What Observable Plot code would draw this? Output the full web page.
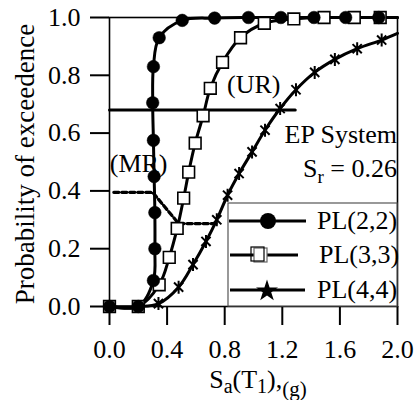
<!DOCTYPE html>
<html><head><meta charset="utf-8">
<script src="https://cdn.jsdelivr.net/npm/d3@7"></script>
<script src="https://cdn.jsdelivr.net/npm/@observablehq/plot@0.6"></script>
<style>
body{margin:0;background:#fff;}
#chart{width:414px;height:400px;}
#chart svg, #chart svg text, #chart svg tspan { font-family: "Liberation Serif", "Times New Roman", "DejaVu Serif", serif !important; }
</style>
</head><body><div id="chart"></div>
<script>
// ---- data ----
const xTicks = [0, 0.4, 0.8, 1.2, 1.6, 2.0];
const yTicks = [0, 0.2, 0.4, 0.6, 0.8, 1.0];
const seriesNames = ["PL(2,2)", "PL(3,3)", "PL(4,4)"];

const pl22X = [0, 0.2, 0.305, 0.315, 0.315, 0.31, 0.305, 0.30, 0.305, 0.345, 0.505, 0.73, 0.965, 1.19, 1.42, 1.64, 1.87];
const pl22Y = [0, 0, 0.09, 0.20, 0.325, 0.45, 0.575, 0.705, 0.83, 0.93, 0.99, 0.998, 1, 1, 1, 1, 1];
const pl22EndX = 2.0, pl22EndY = 1.0;

const pl33X = [0, 0.2, 0.345, 0.415, 0.47, 0.515, 0.55, 0.595, 0.65, 0.70, 0.785, 0.91, 1.075, 1.28, 1.49, 1.70, 1.88];
const pl33Y = [0, 0, 0.075, 0.17, 0.27, 0.375, 0.465, 0.565, 0.66, 0.755, 0.845, 0.93, 0.98, 0.995, 1, 1, 1];
const pl33EndX = 2.0, pl33EndY = 1.0;

const pl44X = [0, 0.2, 0.34, 0.48, 0.58, 0.67, 0.745, 0.82, 0.90, 0.99, 1.08, 1.185, 1.295, 1.425, 1.565, 1.72, 1.89];
const pl44Y = [0, 0, 0.01, 0.067, 0.145, 0.225, 0.30, 0.385, 0.46, 0.535, 0.61, 0.685, 0.75, 0.81, 0.855, 0.892, 0.922];
const pl44EndX = 2.0, pl44EndY = 0.945;

// (UR) solid limit line and (MR) dotted path
const urX = [0, 1.29], urY = [0.68, 0.68];
const mrX = [0.03, 0.30, 0.48, 0.74], mrY = [0.395, 0.395, 0.287, 0.287];

const annoText = ["(UR)", "(MR)", "EP System"];
const srLabel = ["S", "r", " = 0.26"];

// ---- build tables ----
const toRows = (xs, ys) => xs.map((x, i) => ({x, y: ys[i]}));
const pl22 = toRows(pl22X, pl22Y), pl33 = toRows(pl33X, pl33Y), pl44 = toRows(pl44X, pl44Y);
const pl22Line = [...pl22, {x: pl22EndX, y: pl22EndY}];
const pl33Line = [...pl33, {x: pl33EndX, y: pl33EndY}];
const pl44Line = [...pl44, {x: pl44EndX, y: pl44EndY}];
const ur = toRows(urX, urY), mr = toRows(mrX, mrY);

const font = "Liberation Serif, Times New Roman, DejaVu Serif, serif";
const fmt = d => d.toFixed(1);

// Excel-like star marker: vertical + two 45° diagonals
const xStar = {draw(ctx, size){
  const r = Math.sqrt(size / Math.PI);
  const d = r * Math.SQRT1_2;
  ctx.moveTo(0, -r); ctx.lineTo(0, r);
  ctx.moveTo(-d, -d); ctx.lineTo(d, d);
  ctx.moveTo(-d, d); ctx.lineTo(d, -d);
}};

const plot = Plot.plot({
  width: 414, height: 400,
  marginLeft: 109, marginRight: 17, marginTop: 17, marginBottom: 94,
  style: {fontFamily: font, fontSize: "26px", color: "black", background: "white", overflow: "visible"},
  x: {domain: [0, 2]},
  y: {domain: [0, 1]},
  marks: [
    Plot.axisX({ticks: xTicks, tickFormat: fmt, tickSize: 19, tickPadding: 14, strokeWidth: 2, label: null, fontSize: 26}),
    Plot.axisY({ticks: yTicks, tickFormat: fmt, tickSize: 19, tickPadding: 10, strokeWidth: 2, label: null, fontSize: 26}),
    Plot.frame({stroke: "black", strokeWidth: 1.6}),
    Plot.line(ur, {x: "x", y: "y", stroke: "black", strokeWidth: 3}),
    Plot.line(mr, {x: "x", y: "y", stroke: "black", strokeWidth: 3.2, strokeDasharray: "5,3"}),
    Plot.line(pl22Line, {x: "x", y: "y", curve: "catmull-rom", stroke: "black", strokeWidth: 3}),
    Plot.line(pl33Line, {x: "x", y: "y", curve: "catmull-rom", stroke: "black", strokeWidth: 3}),
    Plot.line(pl44Line, {x: "x", y: "y", curve: "catmull-rom", stroke: "black", strokeWidth: 3}),
    Plot.dot(pl44, {x: "x", y: "y", symbol: xStar, r: 6.5, fill: "none", stroke: "black", strokeWidth: 2}),
    Plot.dot(pl33, {x: "x", y: "y", symbol: "square", r: 6.6, fill: "white", stroke: "black", strokeWidth: 1.6}),
    Plot.dot(pl22, {x: "x", y: "y", r: 6.3, fill: "black", stroke: "black", strokeWidth: 0.5})
  ]
});
document.getElementById("chart").appendChild(plot);

// ---- annotations & legend ----
const sx = plot.scale("x"), sy = plot.scale("y");
const svg = d3.select(plot);
const g = svg.append("g").attr("font-family", font).attr("fill", "black").attr("font-size", 26)
  .attr("text-anchor", "start");

g.append("text").attr("x", sx.apply(0.82)).attr("y", sy.apply(0.737)).text(annoText[0]);
g.append("text").attr("x", sx.apply(0.005)).attr("y", sy.apply(0.464)).text(annoText[1]);
g.append("text").attr("x", sx.apply(2.0)).attr("y", sy.apply(0.564)).attr("text-anchor", "end").text(annoText[2]);
const sr = g.append("text").attr("x", sx.apply(2.0)).attr("y", sy.apply(0.446)).attr("text-anchor", "end");
sr.append("tspan").text(srLabel[0]);
sr.append("tspan").attr("font-size", 19).attr("dy", 6).text(srLabel[1]);
sr.append("tspan").attr("dy", -6).text(srLabel[2]);

// x-axis title
const xt = g.append("text").attr("x", 258).attr("y", 388).attr("text-anchor", "middle");
xt.append("tspan").text("S");
xt.append("tspan").attr("font-size", 20).attr("dy", 5).text("a");
xt.append("tspan").attr("dy", -5).text("(T");
xt.append("tspan").attr("font-size", 20).attr("dy", 5).text("1");
xt.append("tspan").attr("dy", -5).text("),");
xt.append("tspan").attr("font-size", 21).attr("dy", 8).text("(g)");

// y-axis title
g.append("text").attr("transform", "translate(34,164) rotate(-90)").attr("text-anchor", "middle")
  .attr("font-size", 27).text("Probability of exceedence");

// legend
const lg = svg.append("g").attr("font-family", font).attr("font-size", 26).attr("text-anchor", "start");
lg.append("rect").attr("x", 228).attr("y", 203).attr("width", 169).attr("height", 103)
  .attr("fill", "white").attr("stroke", "#555").attr("stroke-width", 1.2);
const rows = [221, 255, 290];
const lineEnds = [[229, 306], [230, 298], [230, 305]];
rows.forEach((y, i) => {
  lg.append("line").attr("x1", lineEnds[i][0]).attr("x2", lineEnds[i][1]).attr("y1", y).attr("y2", y)
    .attr("stroke", "black").attr("stroke-width", 3);
});
lg.append("circle").attr("cx", 268).attr("cy", rows[0]).attr("r", 8).attr("fill", "black");
lg.append("rect").attr("x", 254).attr("y", rows[1] - 7).attr("width", 13).attr("height", 14)
  .attr("fill", "white").attr("stroke", "#666").attr("stroke-width", 1.2);
lg.append("rect").attr("x", 251).attr("y", rows[1] - 8).attr("width", 13).attr("height", 14)
  .attr("fill", "none").attr("stroke", "black").attr("stroke-width", 1.2);
lg.append("path").attr("d", d3.symbol(d3.symbolStar, 150)()).attr("transform", `translate(267,${rows[2] + 1})`)
  .attr("fill", "black");
const textX = [317, 319, 317];
rows.forEach((y, i) => {
  lg.append("text").attr("x", textX[i]).attr("y", y + 8).attr("fill", "black").text(seriesNames[i]);
});
</script>
</body></html>
